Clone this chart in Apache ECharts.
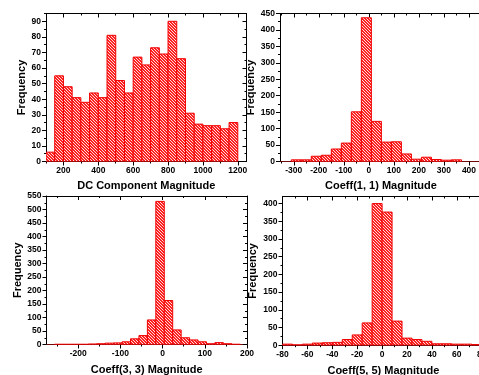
<!DOCTYPE html>
<html>
<head>
<meta charset="utf-8">
<script src="https://cdn.jsdelivr.net/npm/echarts@6/dist/echarts.min.js"></script>
<style>
    html, body { margin: 0; padding: 0; background: #fff; }
    #chart { width: 479px; height: 375px; }
</style>
</head>
<body>
<div id="chart"></div>
<script>
// DC component histogram
const dcEdges = [100, 150, 200, 250, 300, 350, 400, 450, 500, 550, 600, 650, 700, 750, 800, 850, 900, 950, 1000, 1050, 1100, 1150, 1200];
const dcCounts = [6, 55, 48, 41, 38, 44, 41, 81, 52, 44, 67, 62, 73, 69, 90, 66, 31, 24, 23, 23, 21, 25];
const dcXTicks = [200, 400, 600, 800, 1000, 1200];
const dcXMinor = [100, 300, 500, 700, 900, 1100];
const dcYTicks = [0, 10, 20, 30, 40, 50, 60, 70, 80, 90];
const dcYMinor = [5, 15, 25, 35, 45, 55, 65, 75, 85, 95];

// Coeff(1, 1)
const c11Edges = [-310, -270, -230, -190, -150, -110, -70, -30, 10, 50, 90, 130, 170, 210, 250, 290, 330, 370];
const c11Counts = [5, 5, 16, 19, 38, 56, 151, 437, 122, 59, 60, 23, 7, 13, 6, 4, 5];
const c11XTicks = [-300, -200, -100, 0, 100, 200, 300, 400];
const c11XMinor = [-350, -250, -150, -50, 50, 150, 250, 350];
const c11YTicks = [0, 50, 100, 150, 200, 250, 300, 350, 400, 450];
const c11YMinor = [25, 75, 125, 175, 225, 275, 325, 375, 425];

// Coeff(3, 3)
const c33Edges = [-256, -236, -216, -196, -176, -156, -136, -116, -96, -76, -56, -36, -16, 4, 24, 44, 64, 84, 104, 124, 144, 164, 184];
const c33Counts = [1, 1, 1, 1, 2, 3, 5, 6, 10, 21, 33, 91, 530, 163, 54, 25, 17, 10, 3, 7, 3, 1];
const c33XTicks = [-200, -100, 0, 100, 200];
const c33XMinor = [-250, -150, -50, 50, 150];
const c33YTicks = [0, 50, 100, 150, 200, 250, 300, 350, 400, 450, 500, 550];
const c33YMinor = [25, 75, 125, 175, 225, 275, 325, 375, 425, 475, 525];

// Coeff(5, 5)
const c55Edges = [-80, -72, -64, -56, -48, -40, -32, -24, -16, -8, 0, 8, 16, 24, 32, 40, 48, 56, 64, 72, 80];
const c55Counts = [3, 1, 3, 6, 7, 8, 16, 29, 63, 400, 376, 68, 20, 16, 11, 4, 4, 3, 3, 2];
const c55XTicks = [-80, -60, -40, -20, 0, 20, 40, 60, 80];
const c55XMinor = [-70, -50, -30, -10, 10, 30, 50, 70];
const c55YTicks = [0, 50, 100, 150, 200, 250, 300, 350, 400];
const c55YMinor = [25, 75, 125, 175, 225, 275, 325, 375];

const FONT = "'Liberation Sans', Arial, sans-serif";

const panels = [
    {title: 'DC Component Magnitude', edges: dcEdges, counts: dcCounts, xMin: 100, xMax: 1250, yMax: 95,
        xTicks: dcXTicks, xMinor: dcXMinor, yTicks: dcYTicks, yMinor: dcYMinor,
        box: {left: 46, top: 13.5, width: 200.5, height: 148}, yGap: 19, xGap: 19, rightFrame: true},
    {title: 'Coeff(1, 1) Magnitude', edges: c11Edges, counts: c11Counts, xMin: -355, xMax: 452, yMax: 450,
        xTicks: c11XTicks, xMinor: c11XMinor, yTicks: c11YTicks, yMinor: c11YMinor,
        box: {left: 280, top: 13.5, width: 202, height: 148}, yGap: 23.5, xGap: 19, rightFrame: false},
    {title: 'Coeff(3, 3) Magnitude', edges: c33Edges, counts: c33Counts, xMin: -275, xMax: 200, yMax: 550,
        xTicks: c33XTicks, xMinor: c33XMinor, yTicks: c33YTicks, yMinor: c33YMinor,
        box: {left: 46.5, top: 196, width: 200.5, height: 148.5}, yGap: 23.5, xGap: 20, rightFrame: true},
    {title: 'Coeff(5, 5) Magnitude', edges: c55Edges, counts: c55Counts, xMin: -80, xMax: 82, yMax: 420,
        xTicks: c55XTicks, xMinor: c55XMinor, yTicks: c55YTicks, yMinor: c55YMinor,
        box: {left: 282.5, top: 196.5, width: 201.7, height: 148.7}, yGap: 24.5, xGap: 20, rightFrame: false}
];

// hatch pattern: red fill with light diagonal lines
const tile = document.createElement('canvas');
tile.width = 3;
tile.height = 3;
const tg = tile.getContext('2d');
tg.fillStyle = '#ff2020';
tg.fillRect(0, 0, 3, 3);
tg.fillStyle = '#ffdcdc';
for (let i = 0; i < 3; i++) {
    tg.fillRect(i, i, 1, 1);
}
const hatch = {image: tile, repeat: 'repeat'};

const labelStyle = {color: '#000', fontFamily: FONT, fontWeight: 'bold', fontSize: 8.5};
const nameStyle = {color: '#000', fontFamily: FONT, fontWeight: 'bold', fontSize: 11};

function axis(gridIndex, position, min, max, ticks, o) {
    return {
        type: 'value',
        gridIndex: gridIndex,
        position: position,
        min: min,
        max: max,
        name: o.name || '',
        nameLocation: 'middle',
        nameGap: o.nameGap || 0,
        nameTextStyle: nameStyle,
        axisLine: {show: !!o.line, onZero: false, lineStyle: {color: o.lineColor || '#000', width: 1}},
        axisTick: {show: true, inside: !!o.inside, length: o.len, customValues: ticks,
            lineStyle: {color: '#000', width: 1}},
        axisLabel: Object.assign({
            show: !!o.labels, customValues: ticks, margin: 5,
            formatter: (v) => String(v)
        }, labelStyle),
        splitLine: {show: false},
        minorTick: {show: false}
    };
}

const option = {
    animation: false,
    backgroundColor: '#fff',
    grid: [],
    xAxis: [],
    yAxis: [],
    series: []
};

panels.forEach((p, gi) => {
    option.grid.push(Object.assign({outerBoundsMode: 'none', containLabel: false}, p.box));

    const xi = option.xAxis.length;
    const yi = option.yAxis.length;
    const baseColor = gi === 0 ? '#000' : '#6e0a0a';

    option.xAxis.push(axis(gi, 'bottom', p.xMin, p.xMax, p.xTicks,
        {line: true, lineColor: baseColor, len: 4, labels: true, name: p.title, nameGap: p.xGap}));
    option.xAxis.push(axis(gi, 'bottom', p.xMin, p.xMax, p.xMinor, {len: 2}));
    option.xAxis.push(axis(gi, 'top', p.xMin, p.xMax, p.xTicks, {line: true, inside: true, len: 4}));
    option.xAxis.push(axis(gi, 'top', p.xMin, p.xMax, p.xMinor, {inside: true, len: 2}));

    option.yAxis.push(axis(gi, 'left', 0, p.yMax, p.yTicks,
        {line: true, len: 4, labels: true, name: 'Frequency', nameGap: p.yGap}));
    option.yAxis.push(axis(gi, 'left', 0, p.yMax, p.yMinor, {len: 2}));
    if (p.rightFrame) {
        option.yAxis.push(axis(gi, 'right', 0, p.yMax, p.yTicks, {line: true, inside: true, len: 4}));
        option.yAxis.push(axis(gi, 'right', 0, p.yMax, p.yMinor, {inside: true, len: 2}));
    }

    option.series.push({
        type: 'custom',
        xAxisIndex: xi,
        yAxisIndex: yi,
        clip: true,
        encode: {x: [0, 1], y: 2},
        data: p.counts.map((c, k) => [p.edges[k], p.edges[k + 1], c]),
        renderItem: (params, api) => {
            const p0 = api.coord([api.value(0), 0]);
            const p1 = api.coord([api.value(1), api.value(2)]);
            return {
                type: 'rect',
                shape: {x: p0[0], y: p1[1], width: p1[0] - p0[0], height: p0[1] - p1[1]},
                style: {fill: hatch, stroke: '#f00000', lineWidth: 1}
            };
        }
    });
});

const myChart = echarts.init(document.getElementById('chart'), null, {renderer: 'canvas'});
myChart.setOption(option);
</script>
</body>
</html>
